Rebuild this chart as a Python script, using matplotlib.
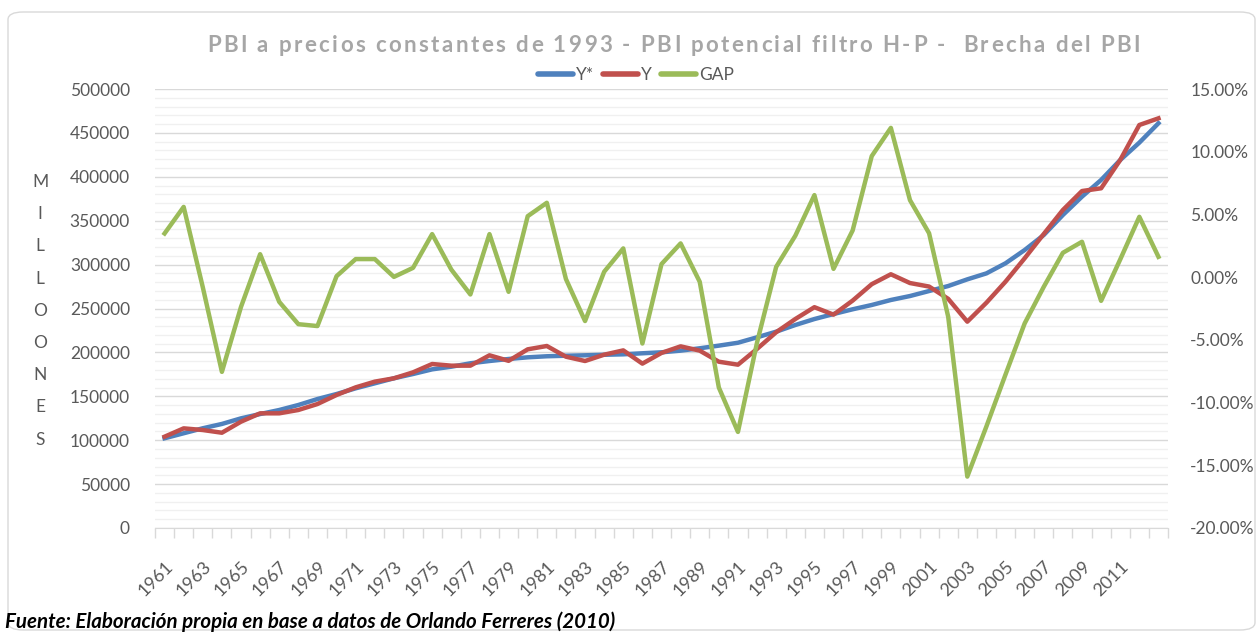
import matplotlib
matplotlib.use("Agg")
import matplotlib.pyplot as plt
from matplotlib.patches import FancyBboxPatch
from matplotlib.ticker import MultipleLocator, FixedLocator, FuncFormatter
from matplotlib.lines import Line2D

plt.rcParams['font.family'] = ['Lato', 'DejaVu Sans']

years = list(range(1961, 2014))
tick_years = list(range(1961, 2012, 2))

y_star = [102200, 107900, 113600, 118500, 124900, 129800, 134400, 140100, 146900, 152600,
          159100, 164800, 170500, 175400, 180700, 183700, 187600, 190200, 192500, 194400,
          195600, 196200, 196700, 197300, 197800, 199000, 200100, 202000, 204700, 207700,
          211000, 217200, 223600, 231200, 238000, 243700, 249100, 254000, 259700, 264200,
          269900, 275600, 283200, 290000, 301500, 316600, 333700, 356500, 377400, 396400,
          419100, 438900, 461000]

y_real = [104000, 113500, 111600, 108500, 121100, 130600, 130600, 134400, 141200, 151500,
          160200, 166700, 170500, 177300, 186800, 184900, 184900, 196700, 190400, 203500,
          207300, 195100, 190200, 197400, 202300, 187200, 199400, 206900, 202000, 189400,
          186000, 204000, 223000, 238000, 251500, 243000, 259000, 277700, 289000, 279000,
          275000, 261000, 235000, 256600, 280600, 307200, 334900, 362200, 383800, 386900,
          419100, 459000, 466600]

gap = [3.48, 5.6, -0.8, -7.55, -2.37, 1.83, -1.97, -3.75, -3.9, 0.08,
       1.44, 1.44, 0.02, 0.74, 3.43, 0.61, -1.38, 3.43, -1.17, 4.86,
       5.93, -0.15, -3.5, 0.43, 2.29, -5.29, 1.04, 2.69, -0.37, -8.8,
       -12.34, -5.2, 0.82, 3.3, 6.54, 0.66, 3.72, 9.65, 11.9, 6.14,
       3.5, -3.16, -15.9, -11.9, -7.76, -3.69, -0.77, 1.94, 2.82, -1.89,
       1.41, 4.81, 1.62]

series_names = ["Y*", "Y", "GAP"]
colors = ["#4F81BD", "#C0504D", "#9BBB59"]

title = "PBI a precios constantes de 1993 - PBI potencial filtro H-P -  Brecha del PBI"
source = "Fuente: Elaboración propia en base a datos de Orlando Ferreres (2010)"
ylabel_letters = list("MILLOONES")

W, H = 1259, 633
fig = plt.figure(figsize=(W / 100, H / 100), dpi=100)
fig.patch.set_facecolor("white")

# chart border
border = FancyBboxPatch((8 / W, 3 / H), (1247 / W), (618 / H),
                        boxstyle="round,pad=0,rounding_size=0.012",
                        transform=fig.transFigure, facecolor="none",
                        edgecolor="#D9D9D9", linewidth=1.0, zorder=-5)
fig.add_artist(border)

left, right, top, bottom = 155, 1168, 89, 528
ax = fig.add_axes([left / W, 1 - bottom / H, (right - left) / W, (bottom - top) / H])
ax.set_facecolor("none")
ax2 = ax.twinx()

x = list(range(len(years)))
grey_text = "#595959"

ax.set_ylim(0, 500000)
ax.set_xlim(-0.5, len(years) - 0.5)
ax.yaxis.set_major_locator(MultipleLocator(50000))
ax.yaxis.set_minor_locator(MultipleLocator(10000))
ax.grid(True, which="major", axis="y", color="#D9D9D9", linewidth=1.0, zorder=0)
ax.grid(True, which="minor", axis="y", color="#F0F0F0", linewidth=1.0, zorder=0)
ax.set_axisbelow(True)

ax.yaxis.set_major_formatter(FuncFormatter(lambda v, p: f"{int(v)}"))
ax.tick_params(axis="y", which="both", length=0, labelsize=12.5, labelcolor=grey_text, pad=18)

# x ticks: marks at category boundaries, labels at odd years
ax.xaxis.set_minor_locator(FixedLocator([i - 0.5 for i in range(len(years) + 1)]))
ax.xaxis.set_major_locator(FixedLocator([years.index(y) for y in tick_years]))
ax.set_xticklabels([str(y) for y in tick_years], rotation=45, ha="right", va="top",
                   rotation_mode="anchor")
ax.tick_params(axis="x", which="major", length=0, labelsize=13, labelcolor=grey_text, pad=22)
ax.tick_params(axis="x", which="minor", length=7, color="#D9D9D9", width=1)

for s in ["top", "left", "right"]:
    ax.spines[s].set_visible(False)
    ax2.spines[s].set_visible(False)
ax.spines["bottom"].set_color("#D9D9D9")
ax2.spines["bottom"].set_visible(False)

ax.plot(x, y_star, color=colors[0], linewidth=3.2, solid_joinstyle="round", zorder=3)
ax.plot(x, y_real, color=colors[1], linewidth=3.2, solid_joinstyle="round", zorder=4)

ax2.set_ylim(-20, 15)
ax2.yaxis.set_major_locator(MultipleLocator(5))
ax2.yaxis.set_major_formatter(FuncFormatter(lambda v, p: f"{v:.2f}%"))
ax2.tick_params(axis="y", length=0, labelsize=12.5, labelcolor=grey_text, pad=16)
ax2.plot(x, gap, color=colors[2], linewidth=3.2, solid_joinstyle="round", zorder=5)

# title with letter spacing, drawn char by char
renderer = fig.canvas.get_renderer()
title_kw = dict(fontsize=16, fontweight="bold", color="#A6A6A6", va="center", ha="left")
target_left, target_right = 207, 1140
widths = []
for ch in title:
    if ch == " ":
        t = fig.text(0, 0, "a a", **title_kw)
        t2 = fig.text(0, 0, "aa", **title_kw)
        w = t.get_window_extent(renderer).width - t2.get_window_extent(renderer).width
        t.remove(); t2.remove()
    else:
        t = fig.text(0, 0, ch, **title_kw)
        w = t.get_window_extent(renderer).width
        t.remove()
    widths.append(w)
extra = (target_right - target_left - sum(widths)) / (len(title) - 1)
xpos = target_left
for ch, w in zip(title, widths):
    if ch != " ":
        fig.text(xpos / W, 1 - 45 / H, ch, **title_kw)
    xpos += w + extra

# legend
handles = [Line2D([0], [0], color=c, linewidth=4, solid_capstyle="round") for c in colors]
fig.legend(handles, series_names, loc="center", bbox_to_anchor=(636 / W, 1 - 75 / H),
           ncol=3, frameon=False, fontsize=12.5, labelcolor=grey_text,
           handlelength=2.0, handletextpad=0.2, columnspacing=0.5)

# vertical letters y-label
y0, step = 182, 32.2
for i, ch in enumerate(ylabel_letters):
    fig.text(40 / W, 1 - (y0 + i * step) / H, ch, ha="center", va="center",
             fontsize=12.5, color=grey_text)

# source
fig.text(5 / W, 1 - 622 / H, source, ha="left", va="center", fontsize=14.8,
         fontweight="bold", fontstyle="italic", color="black")

fig.savefig("out.png", dpi=100, facecolor="white")
